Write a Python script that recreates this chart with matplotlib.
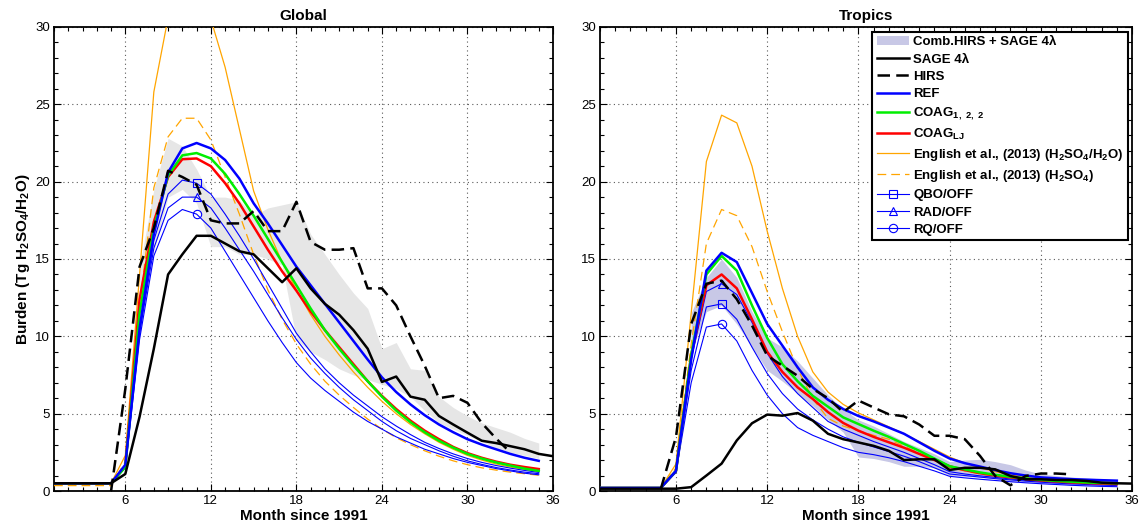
import numpy as np
import matplotlib.pyplot as plt
from matplotlib.patches import Patch
from matplotlib.lines import Line2D

plt.rcParams['font.family'] = ['Liberation Sans', 'DejaVu Sans']
plt.rcParams['mathtext.fontset'] = 'custom'
plt.rcParams['mathtext.rm'] = 'Liberation Sans:bold'
plt.rcParams['mathtext.it'] = 'Liberation Sans:bold'
plt.rcParams['mathtext.bf'] = 'Liberation Sans:bold'
plt.rcParams['mathtext.default'] = 'rm'

# months since 1991
months_obs = np.arange(1, 37)      # SAGE
months_mod = np.arange(1, 36)      # model runs
months_band = np.arange(7, 36)     # combined HIRS + SAGE range

# ---------------- Global ----------------
sage_g = [0.5, 0.5, 0.5, 0.5, 0.5, 1.1, 4.8, 9.2, 14.0, 15.3, 16.5, 16.5, 16.0, 15.5, 15.3,
          14.4, 13.5, 14.4, 13.1, 12.1, 11.4, 10.4, 9.2, 7.05, 7.4, 6.1, 5.9, 4.85, 4.3,
          3.77, 3.25, 3.1, 2.9, 2.7, 2.4, 2.25]
months_hirs_g = np.arange(5, 34)
hirs_g = [0, 6.6, 14.5, 17.0, 20.7, 20.3, 19.8, 17.5, 17.3, 17.3, 18.1, 16.8, 16.8, 18.7,
          16.1, 15.6, 15.6, 15.7, 13.1, 13.1, 12.0, 10.0, 8.1, 6.0, 6.15, 5.7, 4.4, 3.4, 2.5]
band_hi_g = [14.5, 19.5, 22.8, 22.3, 20.8, 19.0, 19.0, 18.8, 17.8, 18.3, 18.5, 18.7, 16.6,
             15.3, 14.0, 12.8, 11.8, 9.2, 9.6, 7.9, 7.8, 6.1, 5.4, 4.85, 4.4, 4.1, 3.8, 3.4, 3.1]
band_lo_g = [12.5, 15.5, 19.0, 19.5, 18.6, 15.8, 15.8, 15.3, 15.3, 15.0, 14.6, 9.8, 9.0,
             8.5, 7.9, 7.5, 7.2, 6.9, 6.6, 6.1, 5.2, 4.4, 4.0, 3.6, 3.2, 2.8, 2.5, 2.3, 2.1]
ref_g = [0.5, 0.5, 0.5, 0.5, 0.5, 1.7, 10.5, 16.6, 20.6, 22.15, 22.5, 22.15, 21.4, 20.2,
         18.6, 17.3, 15.9, 14.5, 13.3, 12.1, 10.9, 9.7, 8.5, 7.35, 6.4, 5.6, 4.9, 4.3, 3.8,
         3.35, 3.0, 2.7, 2.4, 2.15, 1.95]
coag122_g = [0.5, 0.5, 0.5, 0.5, 0.5, 1.55, 11.5, 17.0, 20.4, 21.7, 21.85, 21.5, 20.5, 19.2,
             17.8, 16.3, 14.8, 13.3, 11.8, 10.4, 9.2, 8.1, 7.1, 6.1, 5.2, 4.45, 3.8, 3.25,
             2.8, 2.4, 2.1, 1.85, 1.65, 1.45, 1.3]
coaglj_g = [0.5, 0.5, 0.5, 0.5, 0.5, 1.6, 12.4, 17.4, 20.3, 21.45, 21.5, 21.0, 19.9, 18.6,
            17.1, 15.6, 14.2, 12.95, 11.6, 10.4, 9.3, 8.2, 7.1, 6.15, 5.3, 4.55, 3.9, 3.35,
            2.85, 2.45, 2.15, 1.9, 1.7, 1.55, 1.42]
eng_wet_g = [0.5, 0.5, 0.5, 0.5, 0.5, 2.3, 14.0, 25.8, 30.6, 33.5, 33.0, 30.5, 27.4, 23.4,
             19.4, 16.9, 14.8, 13.0, 11.4, 10.0, 8.8, 7.7, 6.7, 5.8, 5.0, 4.3, 3.7, 3.15,
             2.7, 2.3, 2.0, 1.75, 1.55, 1.4, 1.25]
eng_dry_g = [0.35, 0.35, 0.35, 0.35, 0.35, 1.9, 12.0, 19.6, 22.9, 24.1, 24.1, 22.7, 20.3,
             17.9, 15.3, 13.0, 11.1, 9.5, 8.2, 7.1, 6.2, 5.4, 4.65, 4.0, 3.45, 3.0, 2.6,
             2.25, 1.95, 1.7, 1.5, 1.35, 1.22, 1.12, 1.02]
qbo_g = [0.5, 0.5, 0.5, 0.5, 0.5, 1.5, 10.5, 16.2, 19.2, 20.1, 19.9, 19.2, 17.9, 16.5, 15.0,
         13.4, 11.8, 10.2, 9.0, 7.9, 7.0, 6.2, 5.5, 4.8, 4.2, 3.65, 3.15, 2.75, 2.4, 2.1,
         1.85, 1.65, 1.48, 1.33, 1.2]
rad_g = [0.5, 0.5, 0.5, 0.5, 0.5, 1.5, 10.2, 15.7, 18.3, 19.0, 19.0, 18.3, 17.0, 15.6, 14.2,
         12.7, 11.2, 9.8, 8.6, 7.6, 6.7, 5.9, 5.2, 4.5, 3.9, 3.4, 3.0, 2.6, 2.25, 1.95,
         1.72, 1.52, 1.36, 1.22, 1.12]
rq_g = [0.5, 0.5, 0.5, 0.5, 0.5, 1.5, 9.8, 15.2, 17.5, 18.2, 17.9, 17.0, 15.5, 14.0, 12.5,
        11.0, 9.6, 8.3, 7.3, 6.5, 5.8, 5.1, 4.5, 4.0, 3.5, 3.1, 2.7, 2.4, 2.1, 1.85, 1.65,
        1.45, 1.3, 1.15, 1.05]

# ---------------- Tropics ----------------
sage_t = [0.15, 0.15, 0.15, 0.15, 0.15, 0.15, 0.25, 1.0, 1.77, 3.27, 4.38, 4.94, 4.87, 5.04,
          4.55, 3.7, 3.35, 3.14, 2.92, 2.6, 2.0, 2.05, 2.05, 1.36, 1.5, 1.5, 1.4, 0.97, 0.76,
          0.76, 0.71, 0.71, 0.65, 0.54, 0.5, 0.48]
months_hirs_t = np.arange(5, 33)
hirs_t = [0.13, 3.5, 10.8, 13.4, 13.6, 12.4, 10.7, 8.75, 8.1, 7.45, 6.6, 6.0, 5.1, 5.85, 5.4,
          4.96, 4.83, 4.3, 3.57, 3.57, 3.35, 2.27, 0.97, 0.37, 0.97, 1.13, 1.13, 1.08]
band_hi_t = [11.5, 13.8, 15.0, 13.8, 11.6, 9.9, 9.3, 8.4, 7.3, 6.2, 5.3, 4.6, 4.2, 3.7, 3.2,
             2.8, 2.4, 1.9, 2.0, 2.05, 1.9, 1.7, 1.35, 1.1, 1.0, 0.9, 0.85, 0.78, 0.72]
band_lo_t = [9.0, 11.6, 12.0, 10.8, 9.3, 7.8, 7.1, 6.3, 5.5, 4.6, 3.8, 2.2, 2.1, 1.9, 1.6,
             1.6, 1.5, 1.0, 0.95, 0.9, 0.8, 0.6, 0.55, 0.5, 0.45, 0.4, 0.37, 0.35, 0.33]
ref_t = [0.2, 0.2, 0.2, 0.2, 0.2, 1.3, 8.5, 14.25, 15.4, 14.8, 12.8, 10.8, 9.4, 8.0, 6.7,
         5.9, 5.3, 4.85, 4.5, 4.1, 3.7, 3.15, 2.6, 2.1, 1.8, 1.58, 1.35, 1.15, 1.0, 0.88,
         0.82, 0.77, 0.73, 0.7, 0.67]
coag122_t = [0.2, 0.2, 0.2, 0.2, 0.2, 1.3, 8.8, 14.0, 15.2, 14.25, 12.0, 9.9, 8.2, 7.1,
             6.15, 5.45, 4.76, 4.33, 3.9, 3.5, 3.05, 2.6, 2.1, 1.6, 1.4, 1.2, 1.05, 0.92,
             0.82, 0.72, 0.65, 0.6, 0.55, 0.52, 0.5]
coaglj_t = [0.2, 0.2, 0.2, 0.2, 0.2, 1.3, 8.8, 13.3, 14.0, 13.1, 11.1, 9.0, 7.7, 6.7, 5.95,
            5.1, 4.4, 3.9, 3.5, 3.15, 2.8, 2.4, 2.0, 1.6, 1.35, 1.15, 1.0, 0.88, 0.78, 0.68,
            0.62, 0.56, 0.52, 0.48, 0.45]
eng_wet_t = [0.2, 0.2, 0.2, 0.2, 0.2, 1.75, 11.5, 21.3, 24.3, 23.8, 21.0, 16.8, 13.1, 10.0,
             7.7, 6.4, 5.6, 5.05, 4.6, 4.15, 3.7, 3.2, 2.7, 2.2, 1.8, 1.5, 1.25, 1.05, 0.9,
             0.78, 0.7, 0.62, 0.56, 0.52, 0.48]
eng_dry_t = [0.2, 0.2, 0.2, 0.2, 0.2, 1.5, 9.5, 16.0, 18.2, 17.8, 15.8, 12.9, 10.3, 7.9,
             5.95, 4.7, 4.2, 3.9, 3.6, 3.35, 2.9, 2.45, 2.0, 1.5, 1.3, 1.1, 0.95, 0.82, 0.72,
             0.64, 0.58, 0.53, 0.49, 0.45, 0.42]
qbo_t = [0.2, 0.2, 0.2, 0.2, 0.2, 1.2, 7.8, 11.9, 12.1, 11.1, 9.3, 7.6, 6.3, 5.3, 4.6, 4.0,
         3.5, 3.15, 2.85, 2.55, 2.25, 1.9, 1.5, 1.1, 1.0, 0.9, 0.8, 0.72, 0.64, 0.57, 0.51,
         0.46, 0.42, 0.38, 0.35]
rad_t = [0.2, 0.2, 0.2, 0.2, 0.2, 1.2, 8.5, 12.9, 13.4, 12.7, 10.9, 8.9, 7.4, 6.3, 5.4, 4.5,
         4.0, 3.6, 3.2, 2.85, 2.5, 2.1, 1.7, 1.25, 1.1, 0.98, 0.88, 0.78, 0.7, 0.63, 0.57,
         0.52, 0.48, 0.45, 0.42]
rq_t = [0.2, 0.2, 0.2, 0.2, 0.2, 1.2, 7.0, 10.6, 10.8, 9.7, 7.8, 6.2, 5.0, 4.1, 3.6, 3.2, 2.8,
        2.5, 2.35, 2.15, 1.9, 1.6, 1.3, 0.95, 0.85, 0.76, 0.68, 0.6, 0.53, 0.47, 0.42, 0.37,
        0.33, 0.3, 0.28]

BLUE = '#0000ff'
GREEN = '#00ee00'
RED = '#ff0000'
ORANGE = '#ffa500'
GRAYBAND = '#e6e6e6'
LAVENDER = '#c8c8e6'


def draw_panel(ax, d, band_color, mark_idx, title):
    ax.fill_between(months_band, d['lo'], d['hi'], color=band_color, lw=0, zorder=1)
    ax.plot(months_mod, d['wet'], color=ORANGE, lw=0.9, zorder=3)
    ax.plot(months_mod, d['dry'], color=ORANGE, lw=0.9, dashes=(7, 4), zorder=3)
    ax.plot(months_mod, d['qbo'], color=BLUE, lw=0.8, marker='s', mfc='none', ms=6,
            mew=0.8, markevery=[mark_idx], zorder=4)
    ax.plot(months_mod, d['rad'], color=BLUE, lw=0.8, marker='^', mfc='none', ms=6,
            mew=0.8, markevery=[mark_idx], zorder=4)
    ax.plot(months_mod, d['rq'], color=BLUE, lw=0.8, marker='o', mfc='none', ms=6,
            mew=0.8, markevery=[mark_idx], zorder=4)
    ax.plot(months_mod, d['lj'], color=RED, lw=1.8, zorder=5)
    ax.plot(months_mod, d['c122'], color=GREEN, lw=1.8, zorder=5)
    ax.plot(months_mod, d['ref'], color=BLUE, lw=1.8, zorder=6)
    ax.plot(months_obs, d['sage'], color='black', lw=1.8, zorder=7)
    ax.plot(d['hm'], d['hirs'], color='black', lw=1.8, dashes=(5, 2.5), zorder=7)

    ax.set_xlim(1, 36)
    ax.set_ylim(0, 30)
    ax.set_xticks(np.arange(6, 37, 6))
    ax.set_xticks(np.arange(1, 37, 1), minor=True)
    ax.set_yticks(np.arange(0, 31, 5))
    ax.set_yticks(np.arange(0, 31, 1), minor=True)
    ax.tick_params(which='both', direction='in', top=True, right=True, labelsize=9.5,
                   width=0.8, pad=3)
    ax.tick_params(which='major', length=5)
    ax.tick_params(which='minor', length=3)
    ax.grid(True, which='major', color='0.35', linestyle=(0, (1, 3)), linewidth=0.8)
    ax.set_axisbelow(True)
    for s in ax.spines.values():
        s.set_linewidth(1.3)
    ax.set_title(title, fontsize=11, fontweight='bold', pad=5)
    ax.set_xlabel('Month since 1991', fontsize=11, fontweight='bold', labelpad=1)


fig = plt.figure(figsize=(11.4, 5.27), dpi=100)
ax1 = fig.add_axes([0.0474, 0.0683, 0.4377, 0.8805])
ax2 = fig.add_axes([0.5263, 0.0683, 0.4667, 0.8805])

glob = dict(lo=band_lo_g, hi=band_hi_g, wet=eng_wet_g, dry=eng_dry_g, qbo=qbo_g, rad=rad_g,
            rq=rq_g, lj=coaglj_g, c122=coag122_g, ref=ref_g, sage=sage_g,
            hm=months_hirs_g, hirs=hirs_g)
trop = dict(lo=band_lo_t, hi=band_hi_t, wet=eng_wet_t, dry=eng_dry_t, qbo=qbo_t, rad=rad_t,
            rq=rq_t, lj=coaglj_t, c122=coag122_t, ref=ref_t, sage=sage_t,
            hm=months_hirs_t, hirs=hirs_t)

draw_panel(ax1, glob, GRAYBAND, 10, 'Global')
draw_panel(ax2, trop, LAVENDER, 8, 'Tropics')
ax1.set_ylabel('Burden (Tg H$_2$SO$_4$/H$_2$O)', fontsize=11, fontweight='bold', labelpad=2)

handles = [
    Patch(facecolor=LAVENDER, edgecolor='none'),
    Line2D([], [], color='black', lw=1.8),
    Line2D([], [], color='black', lw=1.8, dashes=(5, 2.5)),
    Line2D([], [], color=BLUE, lw=1.8),
    Line2D([], [], color=GREEN, lw=1.8),
    Line2D([], [], color=RED, lw=1.8),
    Line2D([], [], color=ORANGE, lw=0.9),
    Line2D([], [], color=ORANGE, lw=0.9, dashes=(7, 4)),
    Line2D([], [], color=BLUE, lw=0.8, marker='s', mfc='none', ms=6, mew=0.8),
    Line2D([], [], color=BLUE, lw=0.8, marker='^', mfc='none', ms=6, mew=0.8),
    Line2D([], [], color=BLUE, lw=0.8, marker='o', mfc='none', ms=6, mew=0.8),
]
labels = [
    'Comb.HIRS + SAGE 4λ',
    'SAGE 4λ',
    'HIRS',
    'REF',
    r'COAG$_{1,\ 2,\ 2}$',
    r'COAG$_{LJ}$',
    r'English et al., (2013) (H$_2$SO$_4$/H$_2$O)',
    r'English et al., (2013) (H$_2$SO$_4$)',
    'QBO/OFF',
    'RAD/OFF',
    'RQ/OFF',
]
leg = ax2.legend(handles, labels, loc='upper right', bbox_to_anchor=(0.993, 0.99),
                 borderaxespad=0, prop={'weight': 'bold', 'size': 9.5}, fancybox=False,
                 framealpha=1, edgecolor='black', handlelength=2.4, handletextpad=0.35,
                 labelspacing=0.38, borderpad=0.35)
leg.get_frame().set_linewidth(1.5)
leg.set_zorder(10)

fig.savefig('out.png', dpi=100)
